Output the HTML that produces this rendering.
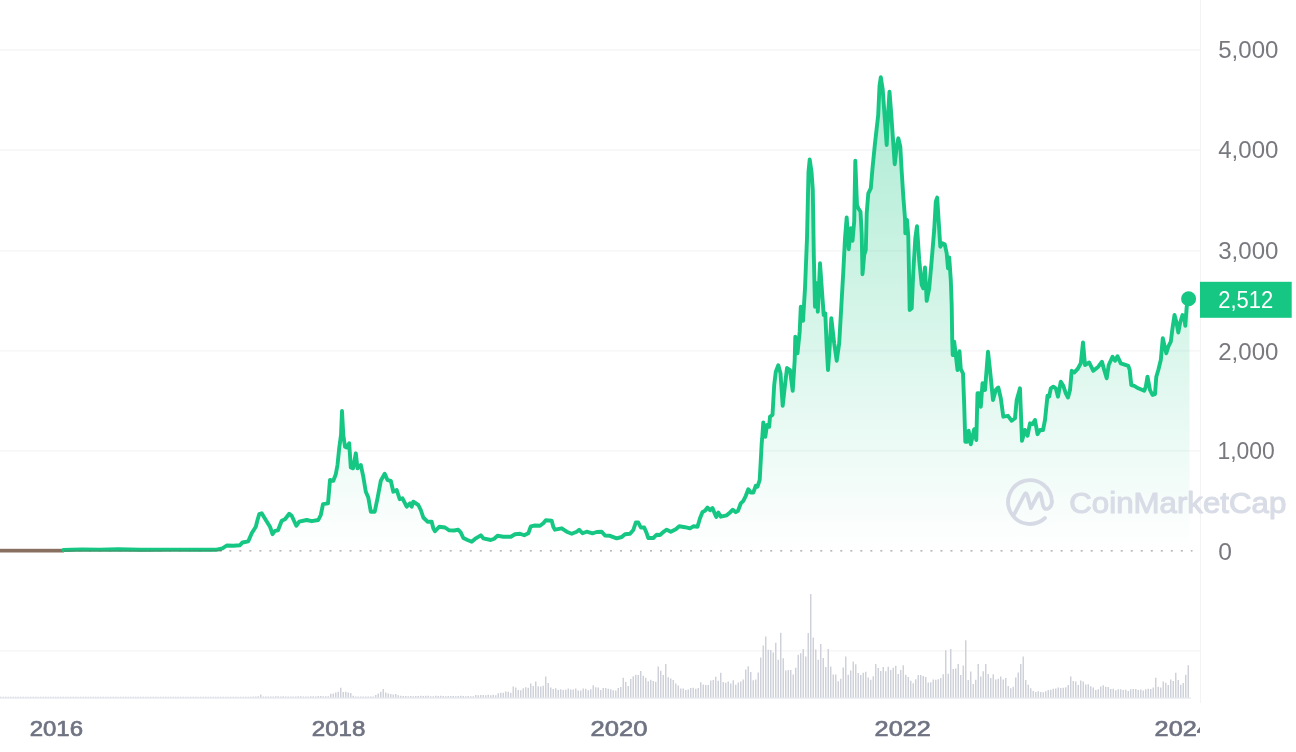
<!DOCTYPE html>
<html lang="en">
<head>
<meta charset="utf-8">
<title>Ethereum price chart</title>
<style>
html,body{margin:0;padding:0;background:#fff;}
body{width:1296px;height:752px;overflow:hidden;position:relative;font-family:"Liberation Sans",sans-serif;}
#chart{position:absolute;left:0;top:0;width:1296px;height:752px;display:block;}
.ylab{font-family:"Liberation Sans",sans-serif;font-size:23.1px;fill:#77797f;}
.xlab{font-family:"Liberation Sans",sans-serif;font-size:22.2px;font-weight:normal;fill:#6f7382;stroke:#6f7382;stroke-width:0.7px;stroke-linejoin:round;}
.wm{font-family:"Liberation Sans",sans-serif;font-size:29.2px;font-weight:normal;fill:#d8dce6;stroke:#d8dce6;stroke-width:1.1px;stroke-linejoin:round;}
</style>
</head>
<body>
<svg id="chart" width="1296" height="752" viewBox="0 0 1296 752">
<defs>
<linearGradient id="fill" gradientUnits="userSpaceOnUse" x1="0" y1="0" x2="0" y2="551">
<stop offset="0" stop-color="#16c784" stop-opacity="0.42"/>
<stop offset="1" stop-color="#16c784" stop-opacity="0"/>
</linearGradient>
<clipPath id="plot"><rect x="0" y="0" width="1200" height="752"/></clipPath>
</defs>
<!-- grid -->
<g id="grid" fill="#f8f8f9">
<rect x="0" y="49" width="1200" height="2"/>
<rect x="0" y="149" width="1200" height="2"/>
<rect x="0" y="249.8" width="1200" height="2"/>
<rect x="0" y="349.7" width="1200" height="2"/>
<rect x="0" y="449.8" width="1200" height="2"/>
<rect x="0" y="649.8" width="1200" height="2"/>
<rect x="1200" y="0" width="1" height="703" fill="#f3f3f4"/>
</g>
<!-- area fill -->
<path id="area" d="M0.0,550.5 L0.0,550.6 L64.0,550.6 L72.0,549.8 L82.0,549.4 L100.0,549.6 L118.0,549.2 L140.0,549.8 L170.0,549.6 L200.0,549.8 L216.7,549.7 L222.5,548.3 L226.7,545.5 L233.3,545.8 L239.7,545.3 L242.5,542.5 L248.3,541.3 L251.7,533.3 L255.8,526.7 L257.5,520.0 L259.2,514.2 L261.7,513.3 L265.8,520.0 L270.0,526.7 L272.5,534.2 L275.0,530.8 L278.0,530.3 L281.7,520.8 L285.0,519.2 L289.2,513.7 L291.7,515.8 L296.3,525.8 L299.2,521.7 L306.7,520.0 L311.7,521.2 L318.3,520.0 L320.8,515.0 L323.0,504.2 L328.0,503.3 L330.0,480.0 L333.3,480.8 L335.8,474.2 L337.5,465.0 L339.2,448.3 L341.0,435.0 L342.0,411.0 L343.3,435.0 L345.0,446.7 L346.7,447.5 L349.2,443.3 L350.8,467.5 L353.0,468.3 L355.8,453.3 L357.5,468.3 L360.8,465.0 L363.3,476.7 L365.8,491.7 L368.3,497.5 L370.8,511.7 L374.7,511.7 L377.5,498.3 L380.8,480.8 L384.7,473.7 L387.5,480.0 L390.8,480.8 L393.3,491.7 L396.7,490.0 L399.7,499.2 L402.5,498.3 L406.7,506.7 L410.0,503.3 L411.7,506.7 L413.3,501.7 L418.3,505.0 L420.8,510.0 L423.3,517.5 L427.5,521.7 L431.7,521.7 L433.3,528.3 L435.0,531.3 L439.2,526.7 L445.0,527.5 L449.2,530.3 L454.2,530.5 L458.3,529.7 L460.8,532.5 L463.3,538.0 L467.5,540.0 L471.7,541.7 L475.8,538.3 L480.8,535.3 L483.3,538.3 L490.8,540.0 L494.2,538.7 L497.5,535.8 L503.3,536.7 L510.8,536.7 L515.0,534.2 L520.0,533.7 L524.2,535.3 L528.3,533.3 L530.8,526.3 L535.0,525.5 L540.0,525.8 L543.3,523.3 L545.8,520.3 L551.7,520.8 L553.3,526.7 L555.0,529.7 L561.7,528.3 L566.7,531.7 L571.7,533.7 L576.7,531.7 L579.2,529.7 L582.5,533.3 L586.7,531.7 L592.5,533.3 L596.7,532.0 L601.7,531.7 L605.0,535.5 L610.0,535.8 L616.7,538.3 L621.7,537.0 L625.0,534.2 L630.0,533.7 L633.3,530.0 L635.8,522.5 L638.3,522.5 L640.8,527.5 L644.2,527.5 L646.7,533.3 L648.3,538.0 L653.3,538.0 L656.7,534.7 L660.0,535.0 L664.2,531.3 L666.7,529.7 L670.8,531.7 L675.8,529.2 L679.2,526.3 L685.0,527.2 L690.0,528.3 L693.3,526.3 L697.5,526.7 L700.0,518.3 L702.5,512.0 L705.0,510.8 L707.5,507.5 L710.0,510.3 L712.5,508.0 L715.0,514.2 L716.3,517.0 L718.3,512.5 L720.8,516.7 L726.7,515.3 L730.0,512.5 L732.8,509.7 L735.8,512.2 L738.0,510.8 L740.8,503.3 L743.3,500.8 L745.8,495.8 L748.3,489.2 L750.8,492.5 L753.3,492.5 L755.8,485.8 L757.5,486.7 L759.7,480.0 L760.8,460.0 L761.7,443.3 L762.2,438.3 L763.3,422.5 L765.3,436.7 L767.0,425.0 L769.2,426.7 L770.0,416.7 L772.5,415.0 L774.2,385.0 L775.8,371.7 L778.3,365.3 L780.5,373.3 L782.7,405.8 L785.0,385.0 L787.0,368.0 L790.0,370.0 L792.7,390.8 L794.7,360.0 L795.3,336.7 L797.5,353.3 L799.7,331.7 L800.8,306.7 L803.0,320.8 L805.0,288.3 L807.0,238.3 L808.5,171.7 L809.7,159.5 L811.5,171.7 L812.8,190.0 L813.8,255.0 L815.0,306.7 L816.7,283.3 L817.8,311.7 L820.0,263.3 L822.5,298.3 L823.7,315.0 L825.3,313.3 L826.7,346.7 L828.0,370.0 L829.7,346.7 L831.3,318.3 L834.2,343.3 L836.7,360.8 L839.2,343.3 L843.3,271.7 L845.0,238.3 L846.7,217.5 L848.7,249.2 L850.8,228.3 L852.5,240.8 L854.2,221.7 L855.3,160.8 L857.0,205.0 L858.3,208.3 L860.5,211.7 L861.7,233.3 L862.5,274.2 L864.2,255.0 L865.8,250.0 L866.7,213.3 L868.3,193.3 L870.8,188.3 L872.5,168.3 L875.0,143.3 L878.2,115.0 L879.5,86.0 L880.8,77.2 L882.7,89.3 L886.7,145.0 L888.3,110.0 L889.5,91.7 L891.3,115.0 L894.7,164.2 L896.7,146.7 L898.3,138.3 L900.3,146.7 L901.7,171.7 L903.3,196.7 L905.0,218.3 L905.3,233.3 L907.0,220.0 L908.3,236.7 L909.7,310.0 L911.7,308.3 L913.3,271.7 L915.3,238.3 L917.0,226.3 L919.2,260.0 L921.7,285.0 L923.3,288.3 L925.0,267.5 L926.7,300.8 L929.2,288.3 L931.7,260.0 L934.2,230.0 L935.8,201.7 L937.2,197.5 L938.7,221.7 L940.3,246.7 L942.5,243.3 L944.7,244.2 L946.7,253.3 L948.0,268.3 L949.2,257.5 L950.8,280.0 L951.7,305.0 L952.2,340.0 L952.7,355.0 L954.2,341.7 L955.8,355.0 L957.5,370.0 L959.5,351.3 L960.8,369.2 L963.0,373.3 L964.2,405.0 L965.3,441.7 L967.2,441.7 L968.7,430.8 L970.8,444.2 L974.2,429.2 L976.3,440.0 L977.5,393.3 L979.2,393.3 L980.8,406.7 L982.5,383.3 L985.0,390.0 L988.0,351.7 L990.0,370.0 L993.0,400.0 L995.8,390.0 L998.3,387.5 L1000.8,398.3 L1003.3,416.7 L1008.0,415.8 L1011.7,420.8 L1015.0,418.3 L1016.7,400.0 L1020.0,388.3 L1020.8,410.0 L1022.0,440.8 L1025.0,430.0 L1027.5,435.8 L1030.0,423.3 L1032.5,424.2 L1035.0,420.0 L1037.5,434.2 L1040.0,430.0 L1043.0,430.0 L1045.0,420.0 L1047.5,395.8 L1049.2,396.7 L1050.8,388.3 L1053.3,386.7 L1055.8,388.3 L1058.0,396.7 L1060.8,381.7 L1063.3,385.8 L1065.8,393.3 L1068.0,397.5 L1070.0,390.0 L1071.7,370.8 L1074.2,372.5 L1077.5,369.2 L1080.8,363.3 L1083.0,342.5 L1085.0,365.0 L1089.2,362.5 L1093.3,370.8 L1098.3,366.7 L1102.0,361.7 L1104.2,370.0 L1106.7,378.3 L1108.7,365.0 L1112.5,356.7 L1115.0,360.8 L1117.5,356.3 L1120.8,363.3 L1128.3,365.8 L1129.7,370.0 L1130.0,373.3 L1131.3,385.0 L1134.2,385.8 L1138.3,388.3 L1144.2,390.8 L1145.8,386.7 L1147.5,376.7 L1150.0,390.0 L1152.5,395.0 L1155.0,394.2 L1156.3,376.7 L1158.3,370.0 L1160.8,360.0 L1162.8,338.3 L1164.7,346.7 L1166.3,353.3 L1168.3,346.7 L1170.8,341.7 L1172.5,328.3 L1174.5,315.0 L1176.3,321.7 L1178.3,332.5 L1180.0,323.3 L1182.5,315.0 L1184.2,316.7 L1185.3,325.8 L1186.7,306.7 L1188.3,299.2 L1189.5,299.2 L1189.5,551 L0,551 Z" fill="url(#fill)"/>
<!-- baseline dots -->
<path id="base" d="M-1,550.9H1192.5" stroke="#8a8a8a" stroke-width="1" stroke-dasharray="2 8.0155" fill="none"/>
<!-- volume -->
<rect x="0" y="697" width="1191" height="2" fill="#eef0f5"/>
<path id="vol" d="M0.75,697.5V696.7M3.25,697.5V696.7M5.75,697.5V696.7M8.25,697.5V696.7M10.75,697.5V696.7M13.25,697.5V696.7M15.75,697.5V696.7M18.25,697.5V696.7M20.75,697.5V696.7M23.25,697.5V696.7M25.75,697.5V696.7M28.25,697.5V696.7M30.75,697.5V696.7M33.25,697.5V696.7M35.75,697.5V696.7M38.25,697.5V696.7M40.75,697.5V696.7M43.25,697.5V696.7M45.75,697.5V696.7M48.25,697.5V696.7M50.75,697.5V696.7M53.25,697.5V696.7M55.75,697.5V696.7M58.25,697.5V696.7M60.75,697.5V696.7M63.25,697.5V696.7M65.75,697.5V696.7M68.25,697.5V696.7M70.75,697.5V696.7M73.25,697.5V696.7M75.75,697.5V696.7M78.25,697.5V696.7M80.75,697.5V696.7M83.25,697.5V696.7M85.75,697.5V696.7M88.25,697.5V696.7M90.75,697.5V696.7M93.25,697.5V696.7M95.75,697.5V696.7M98.25,697.5V696.7M100.75,697.5V696.7M103.25,697.5V696.7M105.75,697.5V696.7M108.25,697.5V696.7M110.75,697.5V696.7M113.25,697.5V696.7M115.75,697.5V696.7M118.25,697.5V696.7M120.75,697.5V696.7M123.25,697.5V696.7M125.75,697.5V696.7M128.25,697.5V696.7M130.75,697.5V696.7M133.25,697.5V696.7M135.75,697.5V696.7M138.25,697.5V696.7M140.75,697.5V696.7M143.25,697.5V696.7M145.75,697.5V696.7M148.25,697.5V696.7M150.75,697.5V696.7M153.25,697.5V696.7M155.75,697.5V696.7M158.25,697.5V696.7M160.75,697.5V696.7M163.25,697.5V696.7M165.75,697.5V696.7M168.25,697.5V696.7M170.75,697.5V696.7M173.25,697.5V696.7M175.75,697.5V696.7M178.25,697.5V696.7M180.75,697.5V696.7M183.25,697.5V696.7M185.75,697.5V696.7M188.25,697.5V696.7M190.75,697.5V696.7M193.25,697.5V696.7M195.75,697.5V696.7M198.25,697.5V696.7M200.75,697.5V696.7M203.25,697.5V696.7M205.75,697.5V696.7M208.25,697.5V696.7M210.75,697.5V696.7M213.25,697.5V696.7M215.75,697.5V696.7M218.25,697.5V696.7M220.75,697.5V696.7M223.25,697.5V696.7M225.75,697.5V696.7M228.25,697.5V696.7M230.75,697.5V696.7M233.25,697.5V696.7M235.75,697.5V696.7M238.25,697.5V696.7M240.75,697.5V696.7M243.25,697.5V696.7M245.75,697.5V696.7M248.25,697.5V696.7M250.75,697.5V696.7M253.25,697.5V696.6M255.75,697.5V696.4M258.25,697.5V696.2M260.75,697.5V694.5M263.25,697.5V696.5M265.75,697.5V696.5M268.25,697.5V696.4M270.75,697.5V696.4M273.25,697.5V696.4M275.75,697.5V696.3M278.25,697.5V696.3M280.75,697.5V696.5M283.25,697.5V696.3M285.75,697.5V696.5M288.25,697.5V696.4M290.75,697.5V696.4M293.25,697.5V696.5M295.75,697.5V696.4M298.25,697.5V696.3M300.75,697.5V696.2M303.25,697.5V696.5M305.75,697.5V696.4M308.25,697.5V696.5M310.75,697.5V696.2M313.25,697.5V696.2M315.75,697.5V696.5M318.25,697.5V696.0M320.75,697.5V696.0M323.25,697.5V696.3M325.75,697.5V696.3M328.25,697.5V696.2M330.75,697.5V693.8M333.25,697.5V693.6M335.75,697.5V692.4M338.25,697.5V691.8M340.75,697.5V687.8M343.25,697.5V692.0M345.75,697.5V691.7M348.25,697.5V692.6M350.75,697.5V693.1M353.25,697.5V695.7M355.75,697.5V696.5M358.25,697.5V696.5M360.75,697.5V696.5M363.25,697.5V696.5M365.75,697.5V696.5M368.25,697.5V696.5M370.75,697.5V696.5M373.25,697.5V696.5M375.75,697.5V694.9M378.25,697.5V693.5M380.75,697.5V691.8M383.25,697.5V689.0M385.75,697.5V692.4M388.25,697.5V693.4M390.75,697.5V693.9M393.25,697.5V694.4M395.75,697.5V693.9M398.25,697.5V695.2M400.75,697.5V695.8M403.25,697.5V695.9M405.75,697.5V696.1M408.25,697.5V696.2M410.75,697.5V696.1M413.25,697.5V696.2M415.75,697.5V695.9M418.25,697.5V696.1M420.75,697.5V695.8M423.25,697.5V696.1M425.75,697.5V695.8M428.25,697.5V695.8M430.75,697.5V696.3M433.25,697.5V696.2M435.75,697.5V695.8M438.25,697.5V696.0M440.75,697.5V695.8M443.25,697.5V696.1M445.75,697.5V696.2M448.25,697.5V695.9M450.75,697.5V695.9M453.25,697.5V696.1M455.75,697.5V696.2M458.25,697.5V696.1M460.75,697.5V695.8M463.25,697.5V695.9M465.75,697.5V696.2M468.25,697.5V696.1M470.75,697.5V696.2M473.25,697.5V696.2M475.75,697.5V695.0M478.25,697.5V695.2M480.75,697.5V694.9M483.25,697.5V695.0M485.75,697.5V695.2M488.25,697.5V694.7M490.75,697.5V695.3M493.25,697.5V694.8M495.75,697.5V695.3M498.25,697.5V693.2M500.75,697.5V692.8M503.25,697.5V692.7M505.75,697.5V691.5M508.25,697.5V691.8M510.75,697.5V692.7M513.25,697.5V686.5M515.75,697.5V687.4M518.25,697.5V690.0M520.75,697.5V690.2M523.25,697.5V688.2M525.75,697.5V687.3M528.25,697.5V687.8M530.75,697.5V683.5M533.25,697.5V685.9M535.75,697.5V681.5M538.25,697.5V686.2M540.75,697.5V686.5M543.25,697.5V685.7M545.75,697.5V676.5M548.25,697.5V683.1M550.75,697.5V687.5M553.25,697.5V688.9M555.75,697.5V688.2M558.25,697.5V690.0M560.75,697.5V689.3M563.25,697.5V689.9M565.75,697.5V689.7M568.25,697.5V688.4M570.75,697.5V689.6M573.25,697.5V689.4M575.75,697.5V688.6M578.25,697.5V690.4M580.75,697.5V690.4M583.25,697.5V688.5M585.75,697.5V688.7M588.25,697.5V690.2M590.75,697.5V689.3M593.25,697.5V685.2M595.75,697.5V687.3M598.25,697.5V687.6M600.75,697.5V689.9M603.25,697.5V687.9M605.75,697.5V688.1M608.25,697.5V688.8M610.75,697.5V689.3M613.25,697.5V690.2M615.75,697.5V690.4M618.25,697.5V687.9M620.75,697.5V687.1M623.25,697.5V677.8M625.75,697.5V682.1M628.25,697.5V686.0M630.75,697.5V679.0M633.25,697.5V676.2M635.75,697.5V674.7M638.25,697.5V675.1M640.75,697.5V671.1M643.25,697.5V675.7M645.75,697.5V677.8M648.25,697.5V681.3M650.75,697.5V679.8M653.25,697.5V681.0M655.75,697.5V681.7M658.25,697.5V666.5M660.75,697.5V670.8M663.25,697.5V675.0M665.75,697.5V664.0M668.25,697.5V677.2M670.75,697.5V678.4M673.25,697.5V679.9M675.75,697.5V683.4M678.25,697.5V685.6M680.75,697.5V688.5M683.25,697.5V688.4M685.75,697.5V690.1M688.25,697.5V689.5M690.75,697.5V688.0M693.25,697.5V687.8M695.75,697.5V688.7M698.25,697.5V687.9M700.75,697.5V682.3M703.25,697.5V684.4M705.75,697.5V684.9M708.25,697.5V685.0M710.75,697.5V680.5M713.25,697.5V680.0M715.75,697.5V676.8M718.25,697.5V680.8M720.75,697.5V672.8M723.25,697.5V682.0M725.75,697.5V682.8M728.25,697.5V681.6M730.75,697.5V683.5M733.25,697.5V680.3M735.75,697.5V684.7M738.25,697.5V682.4M740.75,697.5V681.5M743.25,697.5V679.6M745.75,697.5V669.6M748.25,697.5V666.3M750.75,697.5V672.1M753.25,697.5V680.2M755.75,697.5V679.4M758.25,697.5V672.5M760.75,697.5V657.5M763.25,697.5V645.4M765.75,697.5V636.5M768.25,697.5V649.8M770.75,697.5V650.0M773.25,697.5V652.6M775.75,697.5V642.8M778.25,697.5V659.8M780.75,697.5V632.8M783.25,697.5V658.2M785.75,697.5V670.6M788.25,697.5V670.1M790.75,697.5V669.9M793.25,697.5V674.5M795.75,697.5V667.8M798.25,697.5V654.8M800.75,697.5V653.2M803.25,697.5V649.0M805.75,697.5V656.5M808.25,697.5V633.1M810.75,697.5V594.0M813.25,697.5V637.4M815.75,697.5V649.4M818.25,697.5V659.7M820.75,697.5V644.0M823.25,697.5V657.9M825.75,697.5V667.0M828.25,697.5V649.0M830.75,697.5V666.5M833.25,697.5V674.4M835.75,697.5V674.4M838.25,697.5V681.3M840.75,697.5V678.7M843.25,697.5V667.4M845.75,697.5V656.5M848.25,697.5V674.8M850.75,697.5V670.4M853.25,697.5V661.5M855.75,697.5V664.3M858.25,697.5V673.0M860.75,697.5V675.1M863.25,697.5V672.8M865.75,697.5V671.8M868.25,697.5V677.5M870.75,697.5V679.7M873.25,697.5V676.2M875.75,697.5V664.0M878.25,697.5V667.9M880.75,697.5V670.9M883.25,697.5V667.0M885.75,697.5V671.2M888.25,697.5V666.8M890.75,697.5V670.0M893.25,697.5V667.7M895.75,697.5V665.7M898.25,697.5V674.1M900.75,697.5V670.1M903.25,697.5V665.2M905.75,697.5V674.8M908.25,697.5V677.0M910.75,697.5V680.7M913.25,697.5V683.3M915.75,697.5V679.2M918.25,697.5V675.1M920.75,697.5V675.0M923.25,697.5V676.1M925.75,697.5V677.0M928.25,697.5V682.6M930.75,697.5V682.2M933.25,697.5V679.6M935.75,697.5V679.7M938.25,697.5V679.2M940.75,697.5V677.9M943.25,697.5V674.3M945.75,697.5V650.2M948.25,697.5V673.7M950.75,697.5V649.0M953.25,697.5V669.1M955.75,697.5V668.4M958.25,697.5V664.0M960.75,697.5V675.1M963.25,697.5V665.4M965.75,697.5V640.2M968.25,697.5V680.0M970.75,697.5V671.5M973.25,697.5V684.0M975.75,697.5V679.7M978.25,697.5V664.0M980.75,697.5V676.6M983.25,697.5V671.3M985.75,697.5V664.0M988.25,697.5V673.9M990.75,697.5V678.0M993.25,697.5V674.2M995.75,697.5V679.5M998.25,697.5V678.7M1000.75,697.5V676.5M1003.25,697.5V679.5M1005.75,697.5V678.1M1008.25,697.5V685.9M1010.75,697.5V688.2M1013.25,697.5V686.7M1015.75,697.5V677.6M1018.25,697.5V672.4M1020.75,697.5V664.1M1023.25,697.5V656.5M1025.75,697.5V680.1M1028.25,697.5V684.7M1030.75,697.5V688.3M1033.25,697.5V690.9M1035.75,697.5V691.9M1038.25,697.5V691.3M1040.75,697.5V691.9M1043.25,697.5V692.3M1045.75,697.5V691.3M1048.25,697.5V690.0M1050.75,697.5V689.8M1053.25,697.5V688.7M1055.75,697.5V688.5M1058.25,697.5V687.4M1060.75,697.5V688.0M1063.25,697.5V687.7M1065.75,697.5V687.3M1068.25,697.5V684.9M1070.75,697.5V676.5M1073.25,697.5V681.1M1075.75,697.5V681.6M1078.25,697.5V684.9M1080.75,697.5V680.6M1083.25,697.5V681.6M1085.75,697.5V684.5M1088.25,697.5V684.2M1090.75,697.5V686.3M1093.25,697.5V687.4M1095.75,697.5V690.0M1098.25,697.5V689.2M1100.75,697.5V686.6M1103.25,697.5V685.2M1105.75,697.5V686.8M1108.25,697.5V687.0M1110.75,697.5V688.9M1113.25,697.5V688.8M1115.75,697.5V690.3M1118.25,697.5V689.2M1120.75,697.5V689.3M1123.25,697.5V689.9M1125.75,697.5V689.7M1128.25,697.5V690.9M1130.75,697.5V689.2M1133.25,697.5V689.0M1135.75,697.5V689.1M1138.25,697.5V690.1M1140.75,697.5V689.5M1143.25,697.5V690.6M1145.75,697.5V689.2M1148.25,697.5V688.7M1150.75,697.5V689.0M1153.25,697.5V687.4M1155.75,697.5V677.8M1158.25,697.5V686.7M1160.75,697.5V687.5M1163.25,697.5V681.4M1165.75,697.5V682.7M1168.25,697.5V684.9M1170.75,697.5V679.6M1173.25,697.5V681.0M1175.75,697.5V672.8M1178.25,697.5V680.1M1180.75,697.5V684.7M1183.25,697.5V683.0M1185.75,697.5V674.7M1188.25,697.5V665.2" stroke="#ced1d9" stroke-width="1.45" fill="none"/>
<!-- watermark -->
<g id="wm">
<g fill="none" stroke="#d6dae5" stroke-width="3.8" stroke-linecap="round" stroke-linejoin="round">
<path d="M1045,518 A21.9,21.9 0 1 1 1051.9,501.8"/>
<path d="M1014.3,514.2 L1024.2,495 Q1026.1,491.2 1027.4,495.6 L1030.9,508.2 L1037.8,495 Q1040,491 1041,495.8 L1042.8,504.6 Q1043.9,509.8 1047.5,508.8 Q1051.8,507 1051.9,501.8"/>
</g>
<text class="wm" x="1069.3" y="513.0" textLength="217" lengthAdjust="spacingAndGlyphs">CoinMarketCap</text>
</g>
<!-- price line -->
<rect x="0" y="548.8" width="64" height="3.7" fill="#87705f"/>
<path id="line" d="M63.5,550.0 L72.0,549.8 L82.0,549.4 L100.0,549.6 L118.0,549.2 L140.0,549.8 L170.0,549.6 L200.0,549.8 L216.7,549.7 L222.5,548.3 L226.7,545.5 L233.3,545.8 L239.7,545.3 L242.5,542.5 L248.3,541.3 L251.7,533.3 L255.8,526.7 L257.5,520.0 L259.2,514.2 L261.7,513.3 L265.8,520.0 L270.0,526.7 L272.5,534.2 L275.0,530.8 L278.0,530.3 L281.7,520.8 L285.0,519.2 L289.2,513.7 L291.7,515.8 L296.3,525.8 L299.2,521.7 L306.7,520.0 L311.7,521.2 L318.3,520.0 L320.8,515.0 L323.0,504.2 L328.0,503.3 L330.0,480.0 L333.3,480.8 L335.8,474.2 L337.5,465.0 L339.2,448.3 L341.0,435.0 L342.0,411.0 L343.3,435.0 L345.0,446.7 L346.7,447.5 L349.2,443.3 L350.8,467.5 L353.0,468.3 L355.8,453.3 L357.5,468.3 L360.8,465.0 L363.3,476.7 L365.8,491.7 L368.3,497.5 L370.8,511.7 L374.7,511.7 L377.5,498.3 L380.8,480.8 L384.7,473.7 L387.5,480.0 L390.8,480.8 L393.3,491.7 L396.7,490.0 L399.7,499.2 L402.5,498.3 L406.7,506.7 L410.0,503.3 L411.7,506.7 L413.3,501.7 L418.3,505.0 L420.8,510.0 L423.3,517.5 L427.5,521.7 L431.7,521.7 L433.3,528.3 L435.0,531.3 L439.2,526.7 L445.0,527.5 L449.2,530.3 L454.2,530.5 L458.3,529.7 L460.8,532.5 L463.3,538.0 L467.5,540.0 L471.7,541.7 L475.8,538.3 L480.8,535.3 L483.3,538.3 L490.8,540.0 L494.2,538.7 L497.5,535.8 L503.3,536.7 L510.8,536.7 L515.0,534.2 L520.0,533.7 L524.2,535.3 L528.3,533.3 L530.8,526.3 L535.0,525.5 L540.0,525.8 L543.3,523.3 L545.8,520.3 L551.7,520.8 L553.3,526.7 L555.0,529.7 L561.7,528.3 L566.7,531.7 L571.7,533.7 L576.7,531.7 L579.2,529.7 L582.5,533.3 L586.7,531.7 L592.5,533.3 L596.7,532.0 L601.7,531.7 L605.0,535.5 L610.0,535.8 L616.7,538.3 L621.7,537.0 L625.0,534.2 L630.0,533.7 L633.3,530.0 L635.8,522.5 L638.3,522.5 L640.8,527.5 L644.2,527.5 L646.7,533.3 L648.3,538.0 L653.3,538.0 L656.7,534.7 L660.0,535.0 L664.2,531.3 L666.7,529.7 L670.8,531.7 L675.8,529.2 L679.2,526.3 L685.0,527.2 L690.0,528.3 L693.3,526.3 L697.5,526.7 L700.0,518.3 L702.5,512.0 L705.0,510.8 L707.5,507.5 L710.0,510.3 L712.5,508.0 L715.0,514.2 L716.3,517.0 L718.3,512.5 L720.8,516.7 L726.7,515.3 L730.0,512.5 L732.8,509.7 L735.8,512.2 L738.0,510.8 L740.8,503.3 L743.3,500.8 L745.8,495.8 L748.3,489.2 L750.8,492.5 L753.3,492.5 L755.8,485.8 L757.5,486.7 L759.7,480.0 L760.8,460.0 L761.7,443.3 L762.2,438.3 L763.3,422.5 L765.3,436.7 L767.0,425.0 L769.2,426.7 L770.0,416.7 L772.5,415.0 L774.2,385.0 L775.8,371.7 L778.3,365.3 L780.5,373.3 L782.7,405.8 L785.0,385.0 L787.0,368.0 L790.0,370.0 L792.7,390.8 L794.7,360.0 L795.3,336.7 L797.5,353.3 L799.7,331.7 L800.8,306.7 L803.0,320.8 L805.0,288.3 L807.0,238.3 L808.5,171.7 L809.7,159.5 L811.5,171.7 L812.8,190.0 L813.8,255.0 L815.0,306.7 L816.7,283.3 L817.8,311.7 L820.0,263.3 L822.5,298.3 L823.7,315.0 L825.3,313.3 L826.7,346.7 L828.0,370.0 L829.7,346.7 L831.3,318.3 L834.2,343.3 L836.7,360.8 L839.2,343.3 L843.3,271.7 L845.0,238.3 L846.7,217.5 L848.7,249.2 L850.8,228.3 L852.5,240.8 L854.2,221.7 L855.3,160.8 L857.0,205.0 L858.3,208.3 L860.5,211.7 L861.7,233.3 L862.5,274.2 L864.2,255.0 L865.8,250.0 L866.7,213.3 L868.3,193.3 L870.8,188.3 L872.5,168.3 L875.0,143.3 L878.2,115.0 L879.5,86.0 L880.8,77.2 L882.7,89.3 L886.7,145.0 L888.3,110.0 L889.5,91.7 L891.3,115.0 L894.7,164.2 L896.7,146.7 L898.3,138.3 L900.3,146.7 L901.7,171.7 L903.3,196.7 L905.0,218.3 L905.3,233.3 L907.0,220.0 L908.3,236.7 L909.7,310.0 L911.7,308.3 L913.3,271.7 L915.3,238.3 L917.0,226.3 L919.2,260.0 L921.7,285.0 L923.3,288.3 L925.0,267.5 L926.7,300.8 L929.2,288.3 L931.7,260.0 L934.2,230.0 L935.8,201.7 L937.2,197.5 L938.7,221.7 L940.3,246.7 L942.5,243.3 L944.7,244.2 L946.7,253.3 L948.0,268.3 L949.2,257.5 L950.8,280.0 L951.7,305.0 L952.2,340.0 L952.7,355.0 L954.2,341.7 L955.8,355.0 L957.5,370.0 L959.5,351.3 L960.8,369.2 L963.0,373.3 L964.2,405.0 L965.3,441.7 L967.2,441.7 L968.7,430.8 L970.8,444.2 L974.2,429.2 L976.3,440.0 L977.5,393.3 L979.2,393.3 L980.8,406.7 L982.5,383.3 L985.0,390.0 L988.0,351.7 L990.0,370.0 L993.0,400.0 L995.8,390.0 L998.3,387.5 L1000.8,398.3 L1003.3,416.7 L1008.0,415.8 L1011.7,420.8 L1015.0,418.3 L1016.7,400.0 L1020.0,388.3 L1020.8,410.0 L1022.0,440.8 L1025.0,430.0 L1027.5,435.8 L1030.0,423.3 L1032.5,424.2 L1035.0,420.0 L1037.5,434.2 L1040.0,430.0 L1043.0,430.0 L1045.0,420.0 L1047.5,395.8 L1049.2,396.7 L1050.8,388.3 L1053.3,386.7 L1055.8,388.3 L1058.0,396.7 L1060.8,381.7 L1063.3,385.8 L1065.8,393.3 L1068.0,397.5 L1070.0,390.0 L1071.7,370.8 L1074.2,372.5 L1077.5,369.2 L1080.8,363.3 L1083.0,342.5 L1085.0,365.0 L1089.2,362.5 L1093.3,370.8 L1098.3,366.7 L1102.0,361.7 L1104.2,370.0 L1106.7,378.3 L1108.7,365.0 L1112.5,356.7 L1115.0,360.8 L1117.5,356.3 L1120.8,363.3 L1128.3,365.8 L1129.7,370.0 L1130.0,373.3 L1131.3,385.0 L1134.2,385.8 L1138.3,388.3 L1144.2,390.8 L1145.8,386.7 L1147.5,376.7 L1150.0,390.0 L1152.5,395.0 L1155.0,394.2 L1156.3,376.7 L1158.3,370.0 L1160.8,360.0 L1162.8,338.3 L1164.7,346.7 L1166.3,353.3 L1168.3,346.7 L1170.8,341.7 L1172.5,328.3 L1174.5,315.0 L1176.3,321.7 L1178.3,332.5 L1180.0,323.3 L1182.5,315.0 L1184.2,316.7 L1185.3,325.8 L1186.7,306.7 L1188.3,299.2" fill="none" stroke="#16c784" stroke-width="3.9" stroke-linejoin="round" stroke-linecap="round"/>
<path d="M64,551H150L222,550.6" fill="none" stroke="#4c8a66" stroke-width="1.3" stroke-opacity="0.75"/>
<circle cx="1188.6" cy="298.7" r="7.5" fill="#16c784"/>
<!-- y axis labels -->
<g class="ylab">
<text x="1218.2" y="58.1" textLength="60.2" lengthAdjust="spacingAndGlyphs">5,000</text>
<text x="1218.2" y="158.1" textLength="60.2" lengthAdjust="spacingAndGlyphs">4,000</text>
<text x="1218.2" y="259.1" textLength="60.2" lengthAdjust="spacingAndGlyphs">3,000</text>
<text x="1218.2" y="359.5" textLength="60.2" lengthAdjust="spacingAndGlyphs">2,000</text>
<text x="1217.4" y="459.3" textLength="57.4" lengthAdjust="spacingAndGlyphs">1,000</text>
<text x="1218.2" y="559.5" textLength="13.7" lengthAdjust="spacingAndGlyphs">0</text>
</g>
<rect x="1200" y="281.8" width="91.7" height="36" fill="#16c784"/>
<text class="ylab" x="1218.2" y="308.2" textLength="55" lengthAdjust="spacingAndGlyphs" style="fill:#fff">2,512</text>
<!-- x axis labels -->
<g class="xlab" clip-path="url(#plot)">
<text x="29.7" y="735.9" textLength="53.3" lengthAdjust="spacingAndGlyphs">2016</text>
<text x="311.8" y="735.9" textLength="53.6" lengthAdjust="spacingAndGlyphs">2018</text>
<text x="590.5" y="735.9" textLength="57" lengthAdjust="spacingAndGlyphs">2020</text>
<text x="874.6" y="735.9" textLength="56.3" lengthAdjust="spacingAndGlyphs">2022</text>
<text x="1154.6" y="735.9" textLength="56.3" lengthAdjust="spacingAndGlyphs">2024</text>
</g>
</svg>
</body>
</html>
